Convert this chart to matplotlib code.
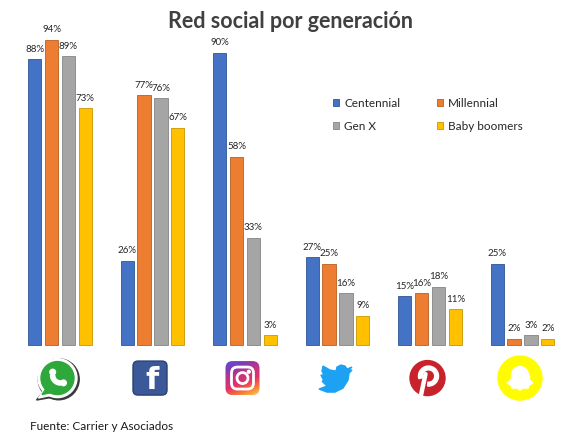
import numpy as np
import matplotlib.pyplot as plt
from matplotlib.patches import Circle, Polygon, FancyBboxPatch, Wedge, Ellipse, Rectangle
from matplotlib.colors import LinearSegmentedColormap

plt.rcParams['font.family'] = ['Lato', 'DejaVu Sans']

networks = ['WhatsApp', 'Facebook', 'Instagram', 'Twitter', 'Pinterest', 'Snapchat']
series = ['Centennial', 'Millennial', 'Gen X', 'Baby boomers']
centennial = [88, 26, 90, 27, 15, 25]
millennial = [94, 77, 58, 25, 16, 2]
gen_x = [89, 76, 33, 16, 18, 3]
baby_boomers = [73, 67, 3, 9, 11, 2]

colors = ['#4472c4', '#ed7d31', '#a5a5a5', '#ffc000']
edges = ['#2f5597', '#b85f22', '#858585', '#c99700']

W, H = 580, 447
fig = plt.figure(figsize=(W / 100, H / 100), dpi=100)
ax = fig.add_axes([0, 0, 1, 1])

x = np.arange(len(networks))
step = 0.182
width = 0.145
handles = []
for k, vals in enumerate([centennial, millennial, gen_x, baby_boomers]):
    pos = x + (k - 1.5) * step
    b = ax.bar(pos, vals, width, color=colors[k], edgecolor=edges[k],
               linewidth=0.6, label=series[k])
    handles.append(b)
    for p, v in zip(pos, vals):
        ax.annotate(f'{v}%', (p, v), xytext=(0, 4), textcoords='offset points',
                    ha='center', va='bottom', fontsize=7, color='#262626')

ax.set_xlim(-0.6486, 5.6216)
ax.set_ylim(-31.4, 106.3)
ax.axis('off')

# legend, row-wise order like excel
order = [0, 2, 1, 3]
ax.legend([handles[i] for i in order], [series[i] for i in order],
          loc='upper left', bbox_to_anchor=(333 / W, 1 - 98 / H),
          bbox_transform=fig.transFigure, ncol=2, frameon=False, fontsize=8.5,
          handlelength=0.55, handleheight=0.55, handletextpad=0.4,
          columnspacing=3.1, labelspacing=1.0, borderpad=0, borderaxespad=0,
          labelcolor='#262626')

fig.text(0.5, 1 - 22 / H, 'Red social por generación', ha='center', va='center',
         fontsize=15.5, fontweight='bold', color='#404040')
fig.text(30 / W, 1 - 426 / H, 'Fuente: Carrier y Asociados', ha='left', va='center',
         fontsize=8.5, color='#1a1a1a')

# icons, drawn in pixel coordinates
iax = fig.add_axes([0, 0, 1, 1])
iax.axis('off')

base = ax.transData.transform(np.column_stack([x, np.zeros(len(x))]))
icon_x = base[:, 0] - 2.5
icon_y = H - base[:, 1] + 33


def whatsapp(a, cx, cy):
    a.add_patch(Circle((cx + 1.2, cy + 1.2), 20.5, color='#3a3a3a'))
    a.add_patch(Polygon([(cx - 13, cy + 12), (cx - 21, cy + 22), (cx - 4, cy + 19)], color='#3a3a3a'))
    a.add_patch(Circle((cx, cy), 19.5, color='white'))
    a.add_patch(Polygon([(cx - 13, cy + 11), (cx - 19, cy + 20), (cx - 5, cy + 17)], color='white'))
    a.add_patch(Circle((cx, cy), 16.5, color='#2fa83b'))
    a.add_patch(Polygon([(cx - 11, cy + 10), (cx - 15.5, cy + 16.5), (cx - 6, cy + 14.5)], color='#2fa83b'))
    a.add_patch(Wedge((cx + 3, cy - 3), 10, 90, 180, width=4.2, color='white'))
    a.add_patch(Circle((cx - 4.8, cy - 6), 2.8, color='white'))
    a.add_patch(Circle((cx + 6, cy + 4.8), 2.8, color='white'))


def facebook(a, cx, cy):
    a.add_patch(FancyBboxPatch((cx - 17, cy - 17), 34, 34,
                               boxstyle='round,pad=0,rounding_size=5',
                               fc='#3b5998', ec='#2b4170', lw=1))
    a.text(cx + 2, cy + 2, 'f', color='white', fontsize=22, fontweight='bold',
           family='DejaVu Sans', ha='center', va='center')


def instagram(a, cx, cy):
    frame = FancyBboxPatch((cx - 17, cy - 17), 34, 34,
                           boxstyle='round,pad=0,rounding_size=7', fc='none', ec='none')
    a.add_patch(frame)
    yy, xx = np.mgrid[0:1:64j, 0:1:64j]
    t = 1 - (0.7 * yy + 0.3 * xx)
    cmap = LinearSegmentedColormap.from_list(
        'ig', ['#fdd24f', '#f77737', '#e1306c', '#c13584', '#833ab4', '#5b51d8'])
    im = a.imshow(t, cmap=cmap, extent=(cx - 17, cx + 17, cy + 17, cy - 17),
                  origin='upper', interpolation='bilinear')
    im.set_clip_path(frame)
    a.add_patch(FancyBboxPatch((cx - 11, cy - 11), 22, 22,
                               boxstyle='round,pad=0,rounding_size=6',
                               fc='none', ec='white', lw=2))
    a.add_patch(Circle((cx, cy), 5.5, fc='none', ec='white', lw=2))
    a.add_patch(Circle((cx + 6.3, cy - 6.3), 1.4, color='white'))


def twitter(a, cx, cy):
    pts = [(17, -11), (12, -9), (10, -12), (6, -13), (2, -11), (1, -7),
           (-5, -8), (-12, -12), (-13, -7), (-11, -3), (-14, -3), (-11, 3),
           (-13, 3), (-8, 8), (-16, 11), (-8, 14), (0, 14), (8, 10),
           (13, 2), (14, -5), (17, -8), (13, -7.5)]
    a.add_patch(Polygon([(cx + px, cy + py) for px, py in pts], closed=True,
                        color='#1da1f2'))


def pinterest(a, cx, cy):
    a.add_patch(Circle((cx, cy), 17.5, color='#c8232c'))
    a.add_patch(Wedge((cx + 1, cy - 2), 10, 165, 455, width=3.8, color='white'))
    a.plot([cx - 2, cx - 6.5], [cy - 4, cy + 17], color='white', lw=3.2,
           solid_capstyle='round')


def snapchat(a, cx, cy):
    a.add_patch(Ellipse((cx, cy), 44, 44, color='#fffc00'))
    a.add_patch(Circle((cx, cy - 3), 8.5, color='white'))
    a.add_patch(Rectangle((cx - 8.5, cy - 3), 17, 8, color='white'))
    a.add_patch(Polygon([(cx - 8.5, cy + 1), (cx - 13, cy + 5), (cx - 9, cy + 7),
                         (cx - 8, cy + 10), (cx - 3, cy + 10), (cx, cy + 12),
                         (cx + 3, cy + 10), (cx + 8, cy + 10), (cx + 9, cy + 7),
                         (cx + 13, cy + 5), (cx + 8.5, cy + 1)], color='white'))


for fn, cx, cy in zip([whatsapp, facebook, instagram, twitter, pinterest, snapchat],
                      icon_x, icon_y):
    fn(iax, cx, cy)

iax.set_aspect('auto')
iax.set_xlim(0, W)
iax.set_ylim(H, 0)

fig.savefig('out.png', dpi=100)
